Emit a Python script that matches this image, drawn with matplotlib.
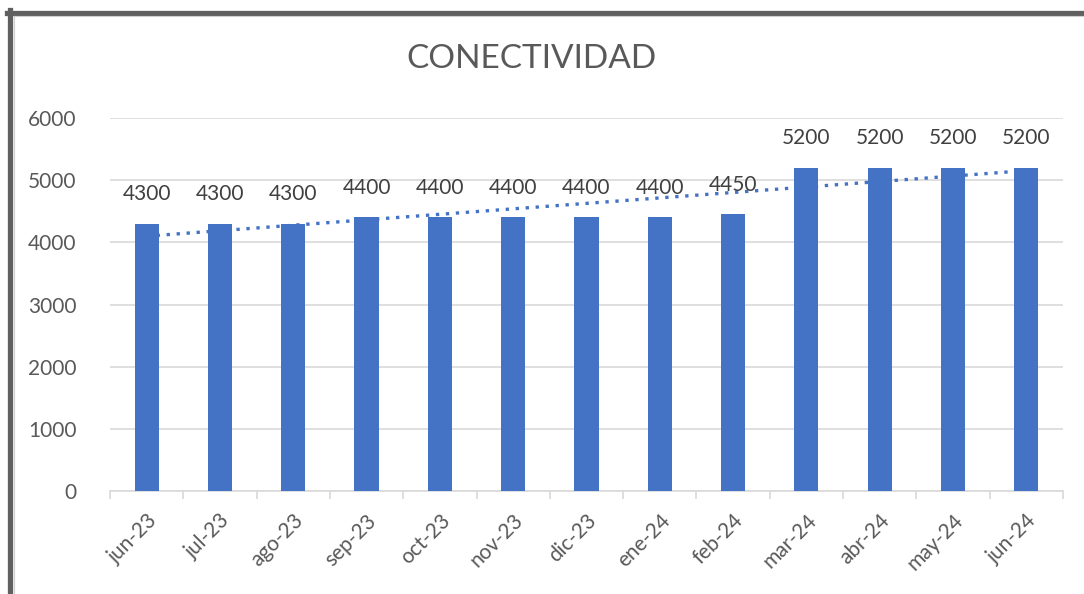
import numpy as np
import matplotlib
matplotlib.use("Agg")
import matplotlib.pyplot as plt
from matplotlib.lines import Line2D

# monthly connectivity figures
months = ['jun-23', 'jul-23', 'ago-23', 'sep-23', 'oct-23', 'nov-23', 'dic-23',
          'ene-24', 'feb-24', 'mar-24', 'abr-24', 'may-24', 'jun-24']
values = [4300, 4300, 4300, 4400, 4400, 4400, 4400, 4400, 4450, 5200, 5200, 5200, 5200]
yticks = [0, 1000, 2000, 3000, 4000, 5000, 6000]

plt.rcParams['font.family'] = ['Lato', 'DejaVu Sans']

bar_color = '#4472C4'
grid_color = '#D9D9D9'
text_color = '#595959'

fig = plt.figure(figsize=(10.84, 5.94), dpi=100)
ax = fig.add_axes([0.1015, 0.1734, 0.879, 0.6279])

x = np.arange(len(months))
ax.bar(x, values, width=0.33, color=bar_color, zorder=3)

# linear trend (least squares) as dotted line
coef = np.polyfit(x, values, 1)
ax.plot(x, np.polyval(coef, x), linestyle=(0, (1, 2.0)), color=bar_color,
        linewidth=2.4, zorder=4)

for xi, v in zip(x, values):
    ax.annotate(str(v), xy=(xi, v), xytext=(0, 14), textcoords='offset points',
                ha='center', va='bottom', fontsize=15, color='#404040', zorder=5)

ax.set_xlim(-0.5, len(months) - 0.5)
ax.set_ylim(0, 6000)
ax.set_yticks(yticks)
ax.set_yticklabels([str(t) for t in yticks], fontsize=15, color=text_color)
ax.tick_params(axis='y', length=0, pad=24)

ax.set_xticks(x)
ax.set_xticklabels(months, rotation=45, ha='right', rotation_mode='anchor',
                   fontsize=15, color=text_color)
ax.tick_params(axis='x', length=0, pad=14)
# category boundary ticks
ax.set_xticks(np.arange(-0.5, len(months)), minor=True)
ax.tick_params(axis='x', which='minor', length=6, color=grid_color, width=1.2)

ax.yaxis.grid(True, color=grid_color, linewidth=1.2, zorder=0)
ax.set_axisbelow(True)
for side in ['top', 'right', 'left']:
    ax.spines[side].set_visible(False)
ax.spines['bottom'].set_color(grid_color)
ax.spines['bottom'].set_linewidth(1.2)

fig.text(0.49, 0.90, 'CONECTIVIDAD', ha='center', va='center',
         fontsize=24, color=text_color)

# outer frame (left and top edges)
W, H = 1084.0, 594.0
fig.add_artist(Line2D([9.5 / W, 9.5 / W], [0, (H - 12.5) / H + 0.005],
                      transform=fig.transFigure, color='#606060', linewidth=3.8))
fig.add_artist(Line2D([7 / W, 1], [(H - 12.5) / H, (H - 12.5) / H],
                      transform=fig.transFigure, color='#606060', linewidth=3.8))
fig.add_artist(Line2D([13.5 / W, 13.5 / W], [0, (H - 15.5) / H],
                      transform=fig.transFigure, color='#D0D0D0', linewidth=0.8))
fig.add_artist(Line2D([13.5 / W, 1], [(H - 15.5) / H, (H - 15.5) / H],
                      transform=fig.transFigure, color='#D0D0D0', linewidth=0.8))

fig.savefig('out.png', dpi=100)
